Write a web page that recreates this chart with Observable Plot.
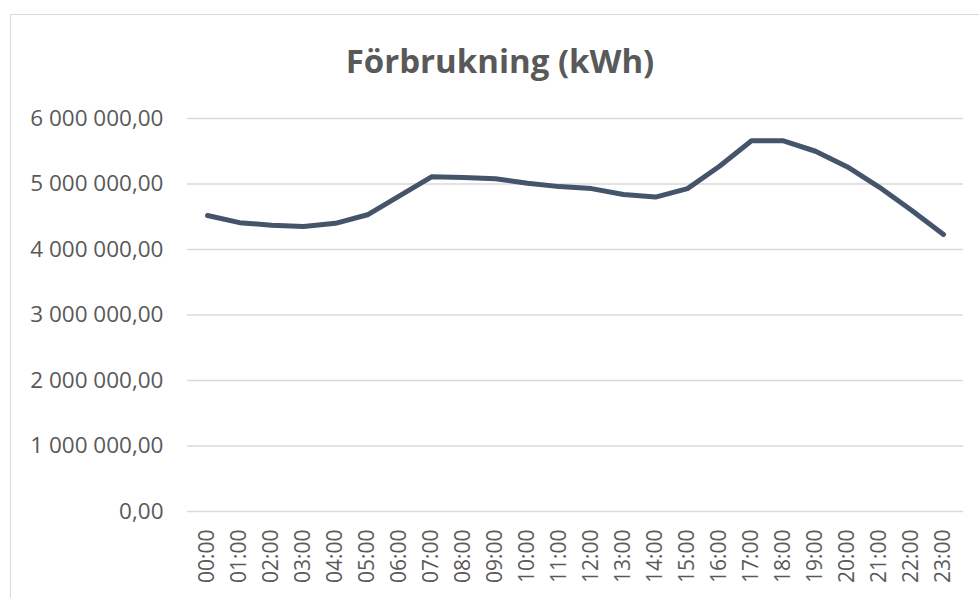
<!DOCTYPE html>
<html>
<head>
<meta charset="utf-8">
<script src="https://cdn.jsdelivr.net/npm/d3@7"></script>
<script src="https://cdn.jsdelivr.net/npm/@observablehq/plot@0.6"></script>
<style>
  html, body { margin: 0; padding: 0; background: #ffffff; overflow: hidden; }
  #frame { position: absolute; left: 10px; top: 14px; width: 1100px; height: 700px; border: 1px solid #d9d9d9; box-sizing: border-box; }
  #title { position: absolute; left: 0; top: 38px; width: 1000px; text-align: center; font-family: "Open Sans", sans-serif; font-weight: 700; font-size: 33px; color: #595959; line-height: normal; white-space: nowrap; }
  #chart { position: absolute; left: 0; top: 90px; }
</style>
</head>
<body>
<div id="frame"></div>
<div id="title">Förbrukning (kWh)</div>
<div id="chart"></div>
<script>
const hours = ["00:00","01:00","02:00","03:00","04:00","05:00","06:00","07:00","08:00","09:00","10:00","11:00","12:00","13:00","14:00","15:00","16:00","17:00","18:00","19:00","20:00","21:00","22:00","23:00"];
const consumption = [4520000, 4410000, 4370000, 4350000, 4400000, 4530000, 4820000, 5110000, 5100000, 5080000, 5010000, 4960000, 4930000, 4840000, 4800000, 4930000, 5270000, 5660000, 5660000, 5500000, 5260000, 4950000, 4600000, 4230000];
const yTicks = [0, 1000000, 2000000, 3000000, 4000000, 5000000, 6000000];

const data = hours.map((h, i) => ({hour: h, value: consumption[i]}));
const fmt = d3.formatLocale({decimal: ",", thousands: "\u00a0", grouping: [3], currency: ["", ""]}).format(",.2f");

const chart = Plot.plot({
  width: 979,
  height: 508,
  marginLeft: 187,
  marginRight: 16,
  marginTop: 28,
  marginBottom: 87,
  style: {fontFamily: "'Open Sans', sans-serif", fontSize: "21px", color: "#595959", background: "transparent"},
  x: {type: "point", domain: hours, padding: 0.5, label: null},
  y: {domain: [0, 6000000], label: null},
  marks: [
    Plot.gridY(yTicks, {stroke: "#d9d9d9", strokeOpacity: 1, strokeWidth: 1.5}),
    Plot.axisY(yTicks, {tickSize: 0, tickPadding: 24, tickFormat: fmt, label: null, fill: "#595959", fontSize: 22.5}),
    Plot.axisX(hours, {tickSize: 0, tickPadding: 18, tickRotate: -90, label: null, fill: "#595959", fontSize: 21}),
    Plot.line(data, {x: "hour", y: "value", stroke: "#44546A", strokeWidth: 5, strokeLinejoin: "round", strokeLinecap: "round"})
  ]
});
document.getElementById("chart").appendChild(chart);
</script>
</body>
</html>
